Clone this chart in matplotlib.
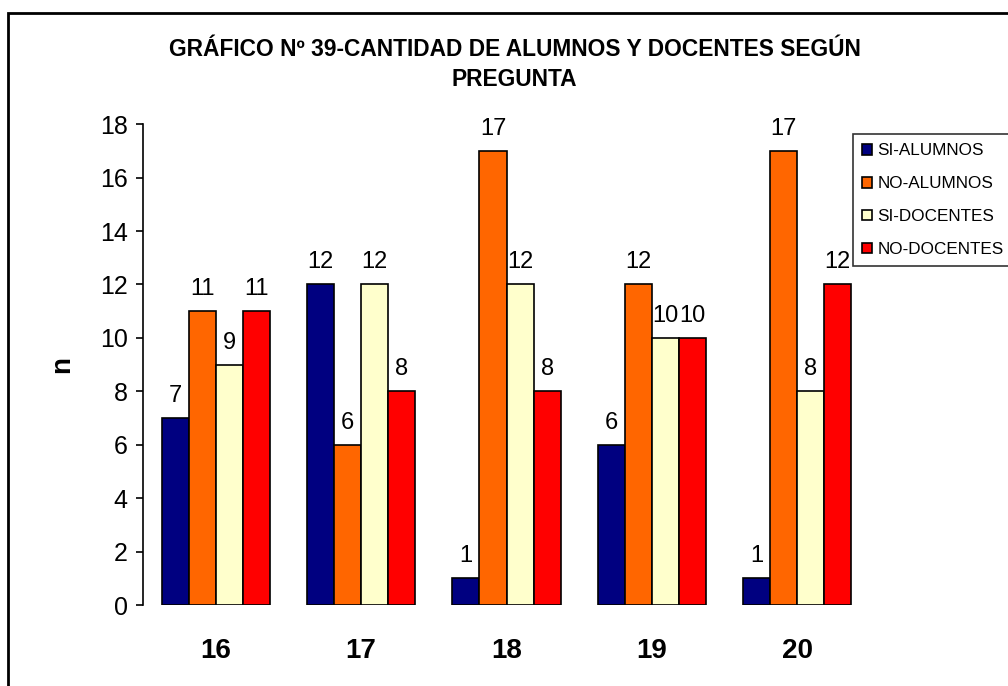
import matplotlib

matplotlib.use("Agg")
import matplotlib.pyplot as plt
import numpy as np
from matplotlib.patches import Rectangle

plt.rcParams["font.family"] = ["Liberation Sans", "DejaVu Sans"]

# Data.
preguntas = ["16", "17", "18", "19", "20"]
series_labels = ["SI-ALUMNOS", "NO-ALUMNOS", "SI-DOCENTES", "NO-DOCENTES"]
si_alumnos = [7, 12, 1, 6, 1]
no_alumnos = [11, 6, 17, 12, 17]
si_docentes = [9, 12, 12, 10, 8]
no_docentes = [11, 8, 8, 10, 12]

colors = ["#000080", "#FF6600", "#FFFFCC", "#FF0000"]
series = [si_alumnos, no_alumnos, si_docentes, no_docentes]

fig = plt.figure(figsize=(10.08, 6.86), dpi=100)
ax = fig.add_axes([0.1419, 0.118, 0.7212, 0.701])

x = np.arange(len(preguntas))
width = 0.186
for i, (vals, lab, col) in enumerate(zip(series, series_labels, colors)):
    pos = x + (i - 1.5) * width
    bars = ax.bar(pos, vals, width, color=col, edgecolor="black",
                  linewidth=1.2, label=lab)
    for b, v in zip(bars, vals):
        ax.annotate(str(v), (b.get_x() + b.get_width() / 2, v),
                    xytext=(0, 11.5), textcoords="offset points",
                    ha="center", va="baseline", fontsize=17)

ax.set_xlim(-0.5, len(preguntas) - 0.5)
ax.set_ylim(0, 18)
ax.set_yticks(range(0, 19, 2))
ax.tick_params(axis="y", labelsize=18, length=5, width=1.2, pad=6)
ax.set_xticks(x)
ax.set_xticklabels(preguntas, fontsize=20, fontweight="bold")
ax.tick_params(axis="x", length=0, pad=24)
for s in ("top", "right", "bottom"):
    ax.spines[s].set_visible(False)
ax.spines["left"].set_linewidth(1.2)
ax.set_ylabel("n", fontsize=20, fontweight="bold", labelpad=18)

fig.text(0.5105, 0.906, "GRÁFICO Nº 39-CANTIDAD DE ALUMNOS Y DOCENTES SEGÚN\nPREGUNTA",
         ha="center", va="center", fontsize=16.4, fontweight="bold",
         linespacing=1.4)

leg = fig.legend(loc="upper left", bbox_to_anchor=(0.846, 0.805),
                 fontsize=12.3, frameon=True, fancybox=False,
                 edgecolor="black", handlelength=0.6, handleheight=0.6,
                 handletextpad=0.3, labelspacing=1.05, borderpad=0.55,
                 borderaxespad=0)
leg.get_frame().set_linewidth(1.2)

# outer chart border
fig.patches.append(Rectangle((0.008, -0.05), 1.1, 1.031,
                             transform=fig.transFigure, fill=False,
                             edgecolor="black", linewidth=2))

fig.savefig("out.png", dpi=100)
